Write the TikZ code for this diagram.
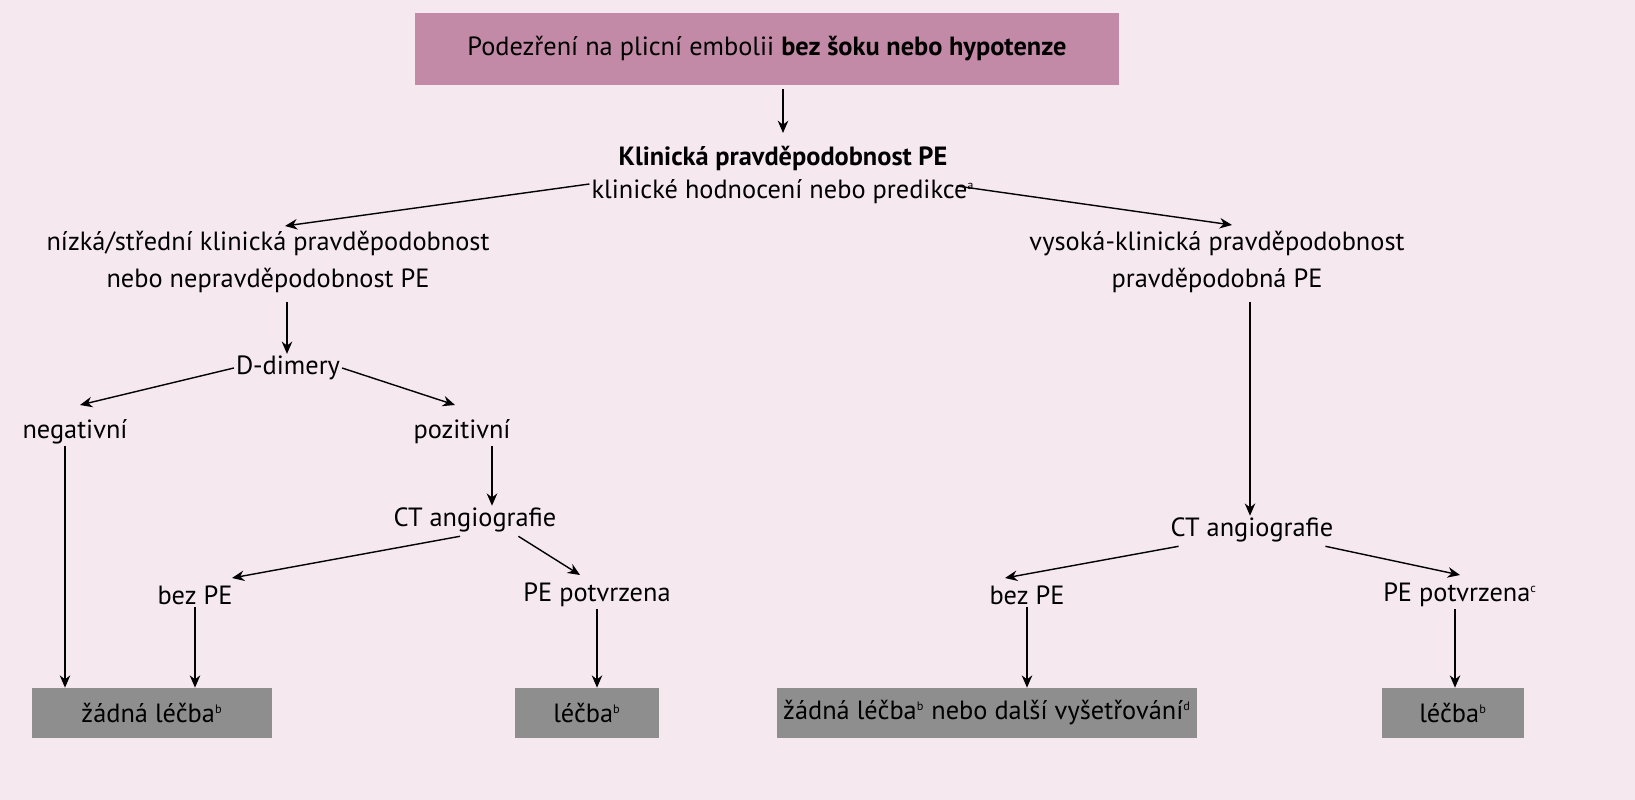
\documentclass[tikz,border=0pt]{standalone}
\usepackage{fontspec}
\setmainfont{PT Sans}
\usetikzlibrary{arrows.meta}
\newcommand{\sps}[1]{\textsuperscript{\scriptsize #1}}
\begin{document}
\begin{tikzpicture}[x=0.02cm,y=-0.02cm,
  txt/.style={font=\fontsize{15}{17}\selectfont, inner sep=1pt},
  gbox/.style={txt, fill=boxgray, minimum height=1cm, anchor=center},
  arr/.style={-{Stealth[length=7pt,width=6pt]}, line width=0.8pt}]
\definecolor{bg}{HTML}{F5E8EF}
\definecolor{topc}{HTML}{C28AA6}
\definecolor{boxgray}{HTML}{8E8E8E}
\fill[bg] (0,0) rectangle (1635,800);
\useasboundingbox (0,0) rectangle (1635,800);
\node[txt, fill=topc, minimum width=14.1cm, minimum height=1.46cm] (top) at (767,49) {Podezření na plicní embolii \textbf{bez šoku nebo hypotenze}};
\node[txt] (k1) at (783,158) {\textbf{Klinická pravděpodobnost PE}};
\node[txt] (k2) at (783,192) {klinické hodnocení nebo predikce\sps{a}};
\node[txt, align=center] (L) at (268,262) {nízká/střední klinická pravděpodobnost\\[4pt] nebo nepravděpodobnost PE};
\node[txt, align=center] (R) at (1217,262) {vysoká-klinická pravděpodobnost\\[4pt] pravděpodobná PE};
\node[txt] (dd) at (288,368) {D-dimery};
\node[txt] (neg) at (75,432) {negativní};
\node[txt] (poz) at (462,432) {pozitivní};
\node[txt] (ct1) at (475,520) {CT angiografie};
\node[txt] (bp1) at (195,595) {bez PE};
\node[txt] (pp1) at (597,595) {PE potvrzena};
\node[txt] (ct2) at (1252,530) {CT angiografie};
\node[txt] (bp2) at (1027,595) {bez PE};
\node[txt] (pp2) at (1460,595) {PE potvrzena\sps{c}};
\node[gbox, minimum width=4.8cm] (b1) at (152,713) {žádná léčba\sps{b}};
\node[gbox, minimum width=2.9cm] (b2) at (587,713) {léčba\sps{b}};
\node[gbox, minimum width=8.42cm] (b3) at (987,713) {žádná léčba\sps{b} nebo další vyšetřování\sps{d}};
\node[gbox, minimum width=2.84cm] (b4) at (1453,713) {léčba\sps{b}};
\draw[arr] (top.south -| k1) ++(0,3) coordinate (t0) -- (783,133) coordinate (t1);
\draw[arr] (k2.west) ++(0,-8) -- (285,226);
\draw[arr] (k2.east) ++(-20,-6) -- (1232,225);
\draw[arr] (287,302) -- (dd.north -| 287,0);
\draw[arr] (dd.west) -- (80,405);
\draw[arr] (dd.east) -- (455,405);
\draw[arr] (neg.south -| 65,0) -- (b1.north -| 65,0);
\draw[arr] (poz.south -| 492,0) -- (ct1.north -| 492,0);
\draw[arr] (ct1.south) ++(-15,2) -- (232,578);
\draw[arr] (ct1.south east) ++(-40,2) -- (580,575);
\draw[arr] (bp1.south) -- (b1.north -| bp1);
\draw[arr] (pp1.south) -- (b2.north -| pp1);
\draw[arr] (1250,302) -- (ct2.north -| 1250,0);
\draw[arr] (ct2.south west) ++(10,2) -- (1005,578);
\draw[arr] (ct2.south east) ++(-10,2) -- (1460,575);
\draw[arr] (bp2.south) -- (b3.north -| bp2);
\draw[arr] (pp2.south) ++(-5,0) coordinate (pq) -- (b4.north -| pq);
\end{tikzpicture}
\end{document}
